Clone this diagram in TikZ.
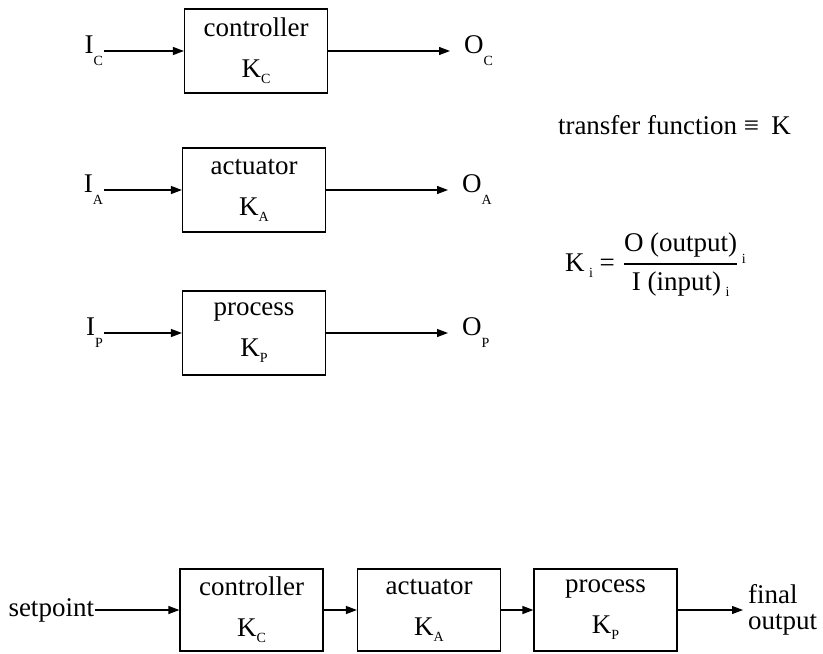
\documentclass[tikz,border=0pt]{standalone}
\usepackage{amsmath}
\usepackage{fontspec}
\setmainfont{Liberation Serif}
\usetikzlibrary{arrows.meta,positioning}

% small capital index set below the baseline
\newcommand{\lowsub}[2][-3pt]{\raisebox{#1}{\fontsize{7}{8}\selectfont #2}}

\begin{document}
\begin{tikzpicture}[x=0.5pt,y=-0.5pt,
  font=\fontsize{13.5}{20.5}\selectfont,
  blk/.style={draw,line width=0.6pt,minimum width=71.5pt,minimum height=42pt,align=center,inner sep=0pt},
  ilab/.style={inner sep=0pt,outer sep=0.5pt},
  olab/.style={inner sep=0pt,outer xsep=7pt},
  >={Triangle[length=5.5pt,width=4pt]}]
  \useasboundingbox (0,0) rectangle (823,653);
  % single blocks with input and output
  \node[blk] (ctrl) at (256,51) {controller\\K\lowsub{C}};
  \node[blk] (act) at (254,190) {actuator\\K\lowsub{A}};
  \node[blk] (proc) at (254,333) {process\\K\lowsub{P}};
  \node[ilab,anchor=east] (ic) at (104,51) {I\lowsub[-6pt]{C}};
  \node[ilab,anchor=east] (ia) at (104,190) {I\lowsub[-6pt]{A}};
  \node[ilab,anchor=east] (ip) at (104,333) {I\lowsub[-6pt]{P}};
  \node[olab,anchor=west] (oc) at (450,51) {O\lowsub[-6pt]{C}};
  \node[olab,anchor=west] (oa) at (448,190) {O\lowsub[-6pt]{A}};
  \node[olab,anchor=west] (op) at (448,333) {O\lowsub[-6pt]{P}};
  \draw[line width=0.6pt,->] (ctrl.west -| ic.east) -- (ctrl.west);
  \draw[line width=0.6pt,->] (act.west -| ia.east) -- (act.west);
  \draw[line width=0.6pt,->] (proc.west -| ip.east) -- (proc.west);
  \draw[line width=0.6pt,->] (ctrl.east) -- (ctrl.east -| oc.west);
  \draw[line width=0.6pt,->] (act.east) -- (act.east -| oa.west);
  \draw[line width=0.6pt,->] (proc.east) -- (proc.east -| op.west);
  % definition of K
  \node[ilab,anchor=west] (tf) at (557,125) {transfer function ≡\hspace{0.45em}K};
  \node[ilab,anchor=west] (kdef) at (564,265) {K\,\lowsub{i} = $\dfrac{\text{O (output)}}{\text{I (input)\,\lowsub{i}}}$\raisebox{4pt}{\fontsize{7}{8}\selectfont\,i}};
  % blocks in series
  \node[blk,minimum height=41pt] (bctrl) at (251.5,610) {controller\\K\lowsub{C}};
  \node[blk,minimum height=41pt] (bact) at (429,610) {actuator\\K\lowsub{A}};
  \node[blk,minimum height=41pt] (bproc) at (605.5,610) {process\\K\lowsub{P}};
  \node[ilab,anchor=east] (sp) at (95,610) {setpoint};
  \node[olab,outer xsep=2.5pt,anchor=west,align=left,font=\fontsize{13.5}{13}\selectfont] (fo) at (743,610) {final\\output};
  \draw[line width=0.6pt,->] (bctrl.west -| sp.east) -- (bctrl.west);
  \draw[line width=0.6pt,->] (bctrl.east) -- (bact.west);
  \draw[line width=0.6pt,->] (bact.east) -- (bproc.west);
  \draw[line width=0.6pt,->] (bproc.east) -- (bproc.east -| fo.west);
\end{tikzpicture}
\end{document}
